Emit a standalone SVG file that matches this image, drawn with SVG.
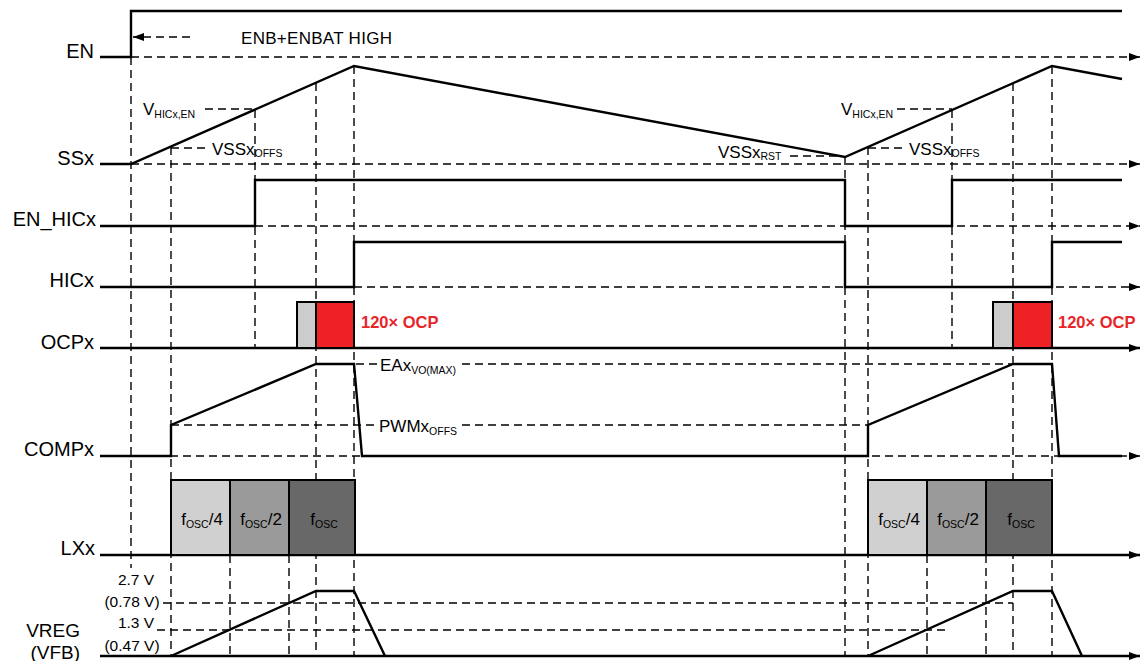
<svg xmlns="http://www.w3.org/2000/svg" width="1142" height="661" viewBox="0 0 1142 661">
<style>
.sig{fill:none;stroke:#000;stroke-width:2.4;stroke-linejoin:miter}
.dash{fill:none;stroke:#000;stroke-width:1.4;stroke-dasharray:8 5}
.lbl{font-family:"Liberation Sans",Arial,sans-serif;font-size:20px;fill:#000;text-anchor:end}
.t{font-family:"Liberation Sans",Arial,sans-serif;font-size:17px;fill:#000}
.sub{font-size:10.5px}
.ocp{font-family:"Liberation Sans",Arial,sans-serif;font-size:16.5px;font-weight:bold;fill:#e8262a}
.v{font-family:"Liberation Sans",Arial,sans-serif;font-size:15.5px;fill:#000;text-anchor:middle}
.box{stroke:#000;stroke-width:2}
</style>
<defs>
<marker id="arr" markerUnits="userSpaceOnUse" markerWidth="12" markerHeight="10" refX="11" refY="4" orient="auto">
<path d="M0,0 L11,4 L0,8 z" fill="#000"/>
</marker>
</defs>
<rect width="1142" height="661" fill="#fff"/>

<g id="connectors">
<!-- vertical guides -->
<path class="dash" d="M131,57V568 M171,147V656 M255,110V348 M316,83V656 M354,66V656 M230,555V656 M289,555V656 M845,157V656 M868,147V656 M952,110V348 M1013,83V656 M1052,66V656 M927,555V656 M986,555V656"/>
<!-- horizontal guides -->
<path class="dash" d="M205,109H255 M897,109H952 M171,148H207 M868,148H905 M790,156H840 M356,364H377 M462,364H1013 M171,425H376 M462,425H868 M163,603H1013 M157,630H947"/>
<line class="dash" x1="131" y1="57" x2="1140" y2="57" marker-end="url(#arr)"/>
<line class="dash" x1="131" y1="164" x2="1140" y2="164" marker-end="url(#arr)"/>
<line class="dash" x1="255" y1="226" x2="1140" y2="226" marker-end="url(#arr)"/>
<line class="dash" x1="354" y1="287" x2="1140" y2="287" marker-end="url(#arr)"/>
<line class="dash" x1="131" y1="456" x2="1140" y2="456" marker-end="url(#arr)"/>
<line class="dash" x1="190" y1="37" x2="133" y2="37" marker-end="url(#arr)"/>
</g>

<g id="EN">
<text class="lbl" x="94" y="58">EN</text>
<path class="sig" d="M100,57H131V11H1122"/>
<text class="t" x="241" y="44" textLength="151">ENB+ENBAT HIGH</text>
</g>

<g id="SSx">
<text class="lbl" x="94" y="165">SSx</text>
<path class="sig" d="M100,164H131L354,66L845,157L1052,66L1122,79"/>
<text class="t" x="143" y="115">V<tspan class="sub" dy="3">HICx,EN</tspan></text>
<text class="t" x="212" y="155">VSSx<tspan class="sub" dy="2">OFFS</tspan></text>
<text class="t" x="718" y="158">VSSx<tspan class="sub" dy="2">RST</tspan></text>
<text class="t" x="841" y="115">V<tspan class="sub" dy="3">HICx,EN</tspan></text>
<text class="t" x="909" y="155">VSSx<tspan class="sub" dy="2">OFFS</tspan></text>
</g>

<g id="EN_HICx">
<text class="lbl" x="96" y="226">EN_HICx</text>
<path class="sig" d="M100,226H255V180H845V226H952V180H1122"/>
</g>

<g id="HICx">
<text class="lbl" x="94" y="287">HICx</text>
<path class="sig" d="M100,287H354V242H845V287H1052V242H1122"/>
</g>

<g id="OCPx">
<text class="lbl" x="94" y="349">OCPx</text>
<line class="sig" x1="100" y1="348" x2="1140" y2="348" marker-end="url(#arr)"/>
<rect class="box" x="297" y="302" width="19" height="46" fill="#cccccc"/>
<rect class="box" x="316" y="302" width="38" height="46" fill="#ee2224"/>
<rect class="box" x="993" y="302" width="20" height="46" fill="#cccccc"/>
<rect class="box" x="1013" y="302" width="39" height="46" fill="#ee2224"/>
<text class="ocp" x="361" y="328">120× OCP</text>
<text class="ocp" x="1058" y="328">120× OCP</text>
</g>

<g id="COMPx">
<text class="lbl" x="94" y="456">COMPx</text>
<path class="sig" d="M100,456H171V425L316,364H354L362,456H868V425L1013,364H1052L1059,456H1122"/>
<text class="t" x="380" y="371">EAx<tspan class="sub" dy="3">VO(MAX)</tspan></text>
<text class="t" x="379" y="432">PWMx<tspan class="sub" dy="3">OFFS</tspan></text>
</g>

<g id="LXx">
<text class="lbl" x="95" y="555">LXx</text>
<line class="sig" x1="100" y1="555" x2="1140" y2="555" marker-end="url(#arr)"/>
<rect class="box" x="171" y="480" width="59" height="75" fill="#d0d0d0"/>
<rect class="box" x="230" y="480" width="59" height="75" fill="#9a9a9a"/>
<rect class="box" x="289" y="480" width="66" height="75" fill="#686868"/>
<rect class="box" x="868" y="480" width="59" height="75" fill="#d0d0d0"/>
<rect class="box" x="927" y="480" width="59" height="75" fill="#9a9a9a"/>
<rect class="box" x="986" y="480" width="66" height="75" fill="#686868"/>
<g class="t" style="text-anchor:middle">
<text x="202" y="525">f<tspan class="sub" dy="3">OSC</tspan><tspan dy="-3">/4</tspan></text>
<text x="261" y="525">f<tspan class="sub" dy="3">OSC</tspan><tspan dy="-3">/2</tspan></text>
<text x="324" y="525">f<tspan class="sub" dy="3">OSC</tspan></text>
<text x="899" y="525">f<tspan class="sub" dy="3">OSC</tspan><tspan dy="-3">/4</tspan></text>
<text x="958" y="525">f<tspan class="sub" dy="3">OSC</tspan><tspan dy="-3">/2</tspan></text>
<text x="1021" y="525">f<tspan class="sub" dy="3">OSC</tspan></text>
</g>
</g>

<g id="VREG">
<text class="lbl" x="80" y="637" style="font-size:19px">VREG</text>
<text class="lbl" x="80" y="659" style="font-size:19px">(VFB)</text>
<text class="v" x="136" y="585">2.7 V</text>
<text class="v" x="132" y="607">(0.78 V)</text>
<text class="v" x="136" y="628">1.3 V</text>
<text class="v" x="132" y="651">(0.47 V)</text>
<line class="sig" x1="100" y1="656" x2="1140" y2="656" marker-end="url(#arr)"/>
<path class="sig" d="M171,656L316,591H354L385,656 M868,656L1013,591H1052L1082,656"/>
</g>
</svg>
